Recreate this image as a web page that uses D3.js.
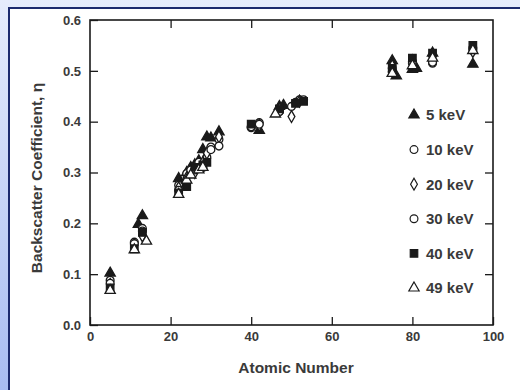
<!DOCTYPE html>
<html>
<head>
<meta charset="utf-8">
<script src="https://cdnjs.cloudflare.com/ajax/libs/d3/7.8.5/d3.min.js"></script>
<style>
  html, body { margin: 0; padding: 0; }
  svg { display: block; font-family: "Liberation Sans", Arial, sans-serif; }
</style>
</head>
<body>
<svg id="chart" width="520" height="390"></svg>
<script>
// data: [atomic number, backscatter coefficient] per beam energy
const energies = ['5 keV', '10 keV', '20 keV', '30 keV', '40 keV', '49 keV'];
const keV5 = [[5,0.102],[12,0.198],[13,0.215],[22,0.288],[24,0.300],[25,0.310],[26,0.315],[27,0.323],[28,0.345],[29,0.370],[30,0.368],[32,0.380],[42,0.383],[47,0.430],[48,0.432],[52,0.440],[75,0.520],[76,0.490],[80,0.503],[81,0.505],[85,0.535],[95,0.513]];
const keV10 = [[5,0.088],[11,0.163],[13,0.190],[22,0.275],[24,0.298],[25,0.305],[27,0.320],[29,0.330],[30,0.350],[32,0.365],[40,0.388],[42,0.398],[47,0.420],[50,0.430],[52,0.443],[75,0.505],[80,0.515],[85,0.515],[95,0.540]];
const keV20 = [[5,0.080],[11,0.157],[13,0.175],[22,0.270],[24,0.290],[26,0.300],[28,0.320],[29,0.338],[32,0.370],[42,0.393],[47,0.425],[50,0.410],[52,0.440],[75,0.510],[80,0.520],[85,0.530],[95,0.538]];
const keV30 = [[5,0.082],[11,0.160],[13,0.185],[22,0.265],[24,0.280],[26,0.305],[28,0.310],[30,0.345],[32,0.352],[40,0.390],[42,0.395],[47,0.420],[51,0.438],[53,0.443],[75,0.498],[80,0.518],[85,0.517],[95,0.545]];
const keV40 = [[5,0.073],[11,0.150],[13,0.182],[22,0.260],[24,0.272],[26,0.310],[28,0.315],[29,0.320],[40,0.395],[47,0.425],[51,0.436],[53,0.440],[75,0.505],[80,0.525],[85,0.535],[95,0.550]];
const keV49 = [[5,0.068],[11,0.148],[14,0.165],[22,0.257],[24,0.285],[25,0.295],[27,0.305],[28,0.310],[46,0.415],[75,0.495],[80,0.510],[85,0.525],[95,0.540]];
const xTicks = [0, 20, 40, 60, 80, 100];
const yTicks = [0, 0.1, 0.2, 0.3, 0.4, 0.5, 0.6];

const seriesData = [keV5, keV10, keV20, keV30, keV40, keV49];
const markers = [
  { type: d3.symbolTriangle, size: 46, filled: true },
  { type: d3.symbolCircle, size: 48, filled: false },
  { type: d3.symbolDiamond, size: 40, filled: false },
  { type: d3.symbolCircle, size: 48, filled: false },
  { type: d3.symbolSquare, size: 56, filled: true },
  { type: d3.symbolTriangle, size: 46, filled: false }
];

const svg = d3.select('#chart');
const W = 520, H = 390;

// blue slide frame
const defs = svg.append('defs');
const grad = defs.append('linearGradient').attr('id', 'bg')
  .attr('x1', 0).attr('y1', 0).attr('x2', 0).attr('y2', 1);
grad.append('stop').attr('offset', '0%').attr('stop-color', '#e6ecfc');
grad.append('stop').attr('offset', '100%').attr('stop-color', '#a8bcf2');
svg.append('rect').attr('width', W).attr('height', H).attr('fill', 'url(#bg)');
svg.append('rect')
  .attr('x', 9).attr('y', 8).attr('width', W).attr('height', H)
  .attr('fill', '#fff').attr('stroke', '#1c2a6e').attr('stroke-width', 2);

const x = d3.scaleLinear().domain([0, 100]).range([90, 493]);
const y = d3.scaleLinear().domain([0, 0.6]).range([325, 20]);

const ink = '#1a1a1a';
const textCol = '#3a3a3a';

// axes, ticks pointing inward
svg.append('g').attr('transform', `translate(0,${y(0)})`)
  .call(d3.axisBottom(x).tickValues(xTicks).tickSize(-8).tickPadding(7).tickFormat(d3.format('d')));
svg.append('g').attr('transform', `translate(${x(0)},0)`)
  .call(d3.axisLeft(y).tickValues(yTicks).tickSize(-8).tickPadding(9).tickFormat(d3.format('.1f')));
svg.append('g').attr('transform', `translate(0,${y(0.6)})`)
  .call(d3.axisTop(x).tickValues(xTicks.slice(1, -1)).tickSize(-8).tickFormat(''));
svg.append('g').attr('transform', `translate(${x(100)},0)`)
  .call(d3.axisRight(y).tickValues(yTicks.slice(1, -1)).tickSize(-8).tickFormat(''));

svg.selectAll('.domain').remove();
svg.selectAll('.tick line').attr('stroke', ink).attr('stroke-width', 1.3);
svg.selectAll('.tick text')
  .attr('fill', textCol).style('font-size', '13px').style('font-weight', 'bold')
  .style('font-family', '"Liberation Sans", Arial, sans-serif');

svg.append('rect')
  .attr('x', x(0)).attr('y', y(0.6))
  .attr('width', x(100) - x(0)).attr('height', y(0) - y(0.6))
  .attr('fill', 'none').attr('stroke', ink).attr('stroke-width', 1.6);

// axis titles
svg.append('text')
  .attr('x', 296).attr('y', 373)
  .attr('text-anchor', 'middle')
  .attr('fill', textCol).style('font-size', '15.5px').style('font-weight', 'bold')
  .text('Atomic Number');
svg.append('text')
  .attr('transform', `translate(42,178) rotate(-90)`)
  .attr('text-anchor', 'middle')
  .attr('fill', textCol).style('font-size', '15.5px').style('font-weight', 'bold')
  .text('Backscatter Coefficient, η');

// points
seriesData.forEach((pts, i) => {
  const m = markers[i];
  const sym = d3.symbol().type(m.type).size(m.size);
  svg.append('g').selectAll('path')
    .data(pts)
    .join('path')
    .attr('transform', d => `translate(${x(d[0])},${y(d[1])})`)
    .attr('d', sym)
    .attr('fill', m.filled ? ink : '#fff')
    .attr('stroke', ink)
    .attr('stroke-width', 1.3);
});

// legend
const legend = svg.append('g').attr('transform', 'translate(414,115)');
energies.forEach((label, i) => {
  const m = markers[i];
  const row = legend.append('g').attr('transform', `translate(0,${i * 34.6})`);
  row.append('path')
    .attr('d', d3.symbol().type(m.type).size(m.size)())
    .attr('fill', m.filled ? ink : '#fff')
    .attr('stroke', ink)
    .attr('stroke-width', 1.2);
  row.append('text')
    .attr('x', 12).attr('dy', '0.36em')
    .attr('fill', textCol).style('font-size', '15px').style('font-weight', 'bold')
    .text(label);
});
</script>
</body>
</html>
